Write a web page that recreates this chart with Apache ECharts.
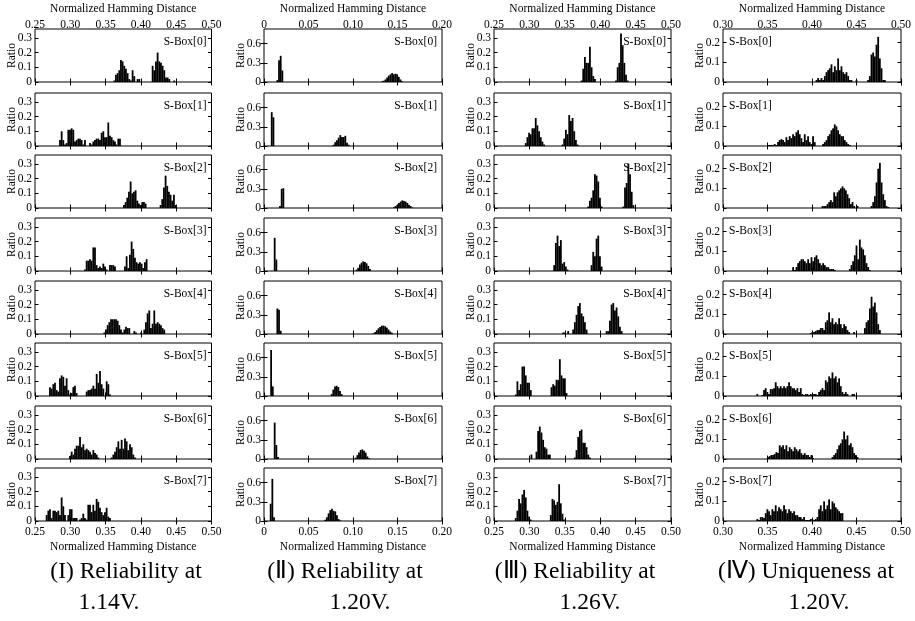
<!DOCTYPE html>
<html>
<head>
<meta charset="utf-8">
<script src="https://cdn.jsdelivr.net/npm/echarts@6/dist/echarts.min.js"></script>
<style>
html, body { margin: 0; background: #fff; }
#chart { width: 915px; height: 621px; }
</style>
</head>
<body>
<div id="chart"></div>
<script>
// axis ranges per column (I..IV)
const xMin = [0.25, 0, 0.25, 0.30];
const xMax = [0.50, 0.20, 0.50, 0.50];
const yMax = [0.36, 0.83, 0.36, 0.27];
const xTicks = [
  [0.25, 0.30, 0.35, 0.40, 0.45, 0.50],
  [0, 0.05, 0.10, 0.15, 0.20],
  [0.25, 0.30, 0.35, 0.40, 0.45, 0.50],
  [0.30, 0.35, 0.40, 0.45, 0.50]
];
const yTicks = [[0, 0.1, 0.2, 0.3], [0, 0.3, 0.6], [0, 0.1, 0.2, 0.3], [0, 0.1, 0.2]];
// histogram bin width per column
const binWidth = [0.00236, 0.00188, 0.00236, 0.001875];
const sboxNames = ['S-Box[0]', 'S-Box[1]', 'S-Box[2]', 'S-Box[3]', 'S-Box[4]', 'S-Box[5]', 'S-Box[6]', 'S-Box[7]'];
const captions = [
  ['(I) Reliability at', '1.14V.'],
  ['(Ⅱ) Reliability at', '1.20V.'],
  ['(Ⅲ) Reliability at', '1.26V.'],
  ['(Ⅳ) Uniqueness at', '1.20V.']
];

// each panel: list of [first bin, ratios of consecutive bins]
const rel114 = [
  [[0.3623, [0.01,0.05,0.06,0.08,0.15,0.14,0.11,0.09,0.06,0.02,0.01,0.08,0.04,0,0.02,0.02]],
   [0.4166, [0.11,0.08,0.14,0.20,0.14,0.13,0.11,0.08,0.03,0.03,0.02,0,0,0.01]]],
  [[0.2854, [0.04,0.10,0.04,0.01,0.02,0.11,0.11,0.12,0.11,0.03,0.04,0.05,0.05,0.04,0.01,0.04,0,0,0.02,0.01,0.03,0.04,0.05,0.05,0.04,0.09,0.10,0.06,0.06,0.16,0.07,0.06,0.04,0.03,0.01,0.05,0.05]]],
  [[0.3760, [0.02,0.04,0.07,0.11,0.18,0.10,0.11,0.12,0.05,0.03,0.02,0.04,0.04,0.03]],
   [0.4279, [0.02,0.06,0.14,0.22,0.15,0.11,0.09,0.05,0.09,0.02]]],
  [[0.3208, [0.01,0.07,0.07,0.08,0.07,0.16,0.16,0.04,0.02,0.03,0.02,0.05,0.03,0.01,0,0.04,0.04,0.04,0.03]],
   [0.3774, [0.03,0.10,0.02,0.11,0.20,0.15,0.09,0.06,0.05,0.06,0.05,0.02,0.06,0.08]]],
  [[0.3482, [0.01,0.03,0.06,0.08,0.10,0.10,0.10,0.10,0.09,0.06,0.03,0.01,0.03,0.05,0.04,0.04,0,0,0.02,0.01,0,0,0.01]],
   [0.4048, [0.03,0.08,0.14,0.16,0.04,0.07,0.16,0.07,0.08,0.07,0.06,0.04,0.03]]],
  [[0.2712, [0.06,0.05,0.08,0.09,0.04,0.03,0.12,0.14,0.13,0.07,0.12,0.04,0.01,0.02,0.06,0.07,0.02]],
   [0.3232, [0.03,0.04,0.04,0.05,0.07,0.05,0.15,0.09,0.17,0.08,0.05,0,0.10,0.08,0.01]]],
  [[0.2996, [0.02,0.05,0.03,0.07,0.09,0.09,0.15,0.08,0.10,0.06,0.07,0.06,0.05,0.03,0.06,0.04,0.03,0.01]],
   [0.3586, [0.01,0.03,0.05,0.08,0.12,0.07,0.13,0.07,0.14,0.12,0.06,0.10,0.08,0.03,0.01]]],
  [[0.2665, [0.04,0.07,0.08,0.02,0.07,0.07,0.06,0.07,0.04,0.16,0.10,0.04,0,0.04,0.08,0.08,0.02,0.02,0.02,0,0.01,0.02,0.05,0.02,0.01,0.11,0.11,0.06,0.11,0.07,0.15,0.13,0.09,0.06,0.04,0.06,0.09,0.03,0.02]]]
];

const rel120 = [
  [[0.0150, [0.03,0.34,0.41,0.18]], [0.1327, [0.01,0.02,0.04,0.07,0.10,0.12,0.14,0.12,0.13,0.12,0.08,0.04,0.01]]],
  [[0.0087, [0.53,0.45]], [0.0782, [0.02,0.06,0.09,0.13,0.17,0.14,0.14,0.16,0.05,0.02]]],
  [[0.0180, [0.03,0.30,0.31]], [0.1460, [0.01,0.03,0.05,0.08,0.10,0.12,0.11,0.10,0.08,0.05,0.03,0.01]]],
  [[0.0120, [0.52,0.18]], [0.1040, [0.02,0.05,0.10,0.13,0.15,0.14,0.12,0.08,0.03]]],
  [[0.0150, [0.40,0.38,0.05]], [0.1230, [0.01,0.03,0.06,0.09,0.11,0.13,0.13,0.12,0.10,0.07,0.04,0.02]]],
  [[0.0080, [0.72,0.15]], [0.0760, [0.03,0.10,0.15,0.16,0.14,0.08,0.03]]],
  [[0.0120, [0.57,0.22,0.03]], [0.1030, [0.02,0.06,0.10,0.14,0.15,0.13,0.10,0.04,0.01]]],
  [[0.0075, [0.27,0.66,0.06]], [0.0688, [0.02,0.06,0.12,0.17,0.19,0.16,0.15,0.09,0.03,0.01]]]
];

const rel126 = [
  [[0.3737, [0.01,0.09,0.17,0.13,0.13,0.24,0.10,0.04,0.02]], [0.4223, [0.01,0.10,0.13,0.33,0.25,0.13,0.05,0.01]]],
  [[0.2948, [0.02,0.06,0.09,0.08,0.12,0.12,0.19,0.14,0.10,0.06,0.03,0.01]], [0.3468, [0.01,0.05,0.11,0.08,0.21,0.17,0.19,0.10,0.04,0.01]]],
  [[0.3831, [0.01,0.05,0.07,0.12,0.23,0.22,0.18,0.07,0.01]], [0.4327, [0.01,0.14,0.17,0.30,0.23,0.11,0.02]]],
  [[0.3350, [0.04,0.19,0.24,0.17,0.21,0.05,0.06,0.03,0.01]], [0.3878, [0.04,0.13,0.10,0.22,0.24,0.10,0.03]]],
  [[0.3477, [0.01,0.01,0,0.02,0,0,0.03,0.08,0.13,0.19,0.21,0.14,0.12,0.08,0.03]], [0.4090, [0.02,0.02,0.09,0.20,0.21,0.16,0.18,0.12,0.05,0.02]]],
  [[0.2807, [0.01,0.10,0.04,0.08,0.20,0.20,0.14,0.09,0.09,0.04]], [0.3312, [0.06,0.08,0.07,0.11,0.11,0.25,0.14,0.12,0.12,0.02]]],
  [[0.3029, [0.03,0,0,0.05,0.19,0.22,0.18,0.13,0.08,0.07,0.03,0.03]], [0.3642, [0.01,0.06,0.15,0.19,0.20,0.11,0.11,0.08,0.03,0.01]]],
  [[0.2807, [0.02,0.07,0.15,0.12,0.18,0.21,0.16,0.07,0.03,0.01]], [0.3302, [0.04,0.15,0.14,0.11,0.13,0.25,0.12,0.05,0.01]]]
];

const uniq120 = [
  [[0.4050, [0.01,0.02,0.01,0.02,0.01,0.03,0.05,0.06,0.07,0.09,0.05,0.08,0.06,0.12,0.06,0.08,0.05,0.04,0.05,0.03,0.01,0.01,0,0,0.01]],
   [0.4631, [0.01,0.03,0.14,0.15,0.13,0.19,0.23,0.12,0.07,0.01,0.01]]],
  [[0.3506, [0.005,0.005,0.005,0.005,0.01,0.005,0.02,0.03,0.035,0.03,0.02,0.045,0.03,0.05,0.04,0.06,0.05,0.07,0.08,0.06,0.04,0.02,0.06,0.03,0.05,0.02,0.01,0.05,0.02,0,0,0,0,0.01,0.02,0.03,0.05,0.06,0.08,0.09,0.11,0.10,0.08,0.06,0.05,0.05,0.03,0.02,0.01,0.005]]],
  [[0.4118, [0.01,0.01,0.01,0.02,0.03,0.04,0.03,0.08,0.06,0.08,0.09,0.10,0.11,0.10,0.09,0.07,0.05,0.02,0.03,0.01,0,0.01]],
   [0.4669, [0.01,0.03,0.06,0.13,0.20,0.23,0.13,0.07,0.04,0.01,0.005]]],
  [[0.3788, [0.02,0.005,0.02,0.04,0.05,0.06,0.06,0.05,0.04,0.06,0.04,0.07,0.05,0.07,0.08,0.06,0.04,0.03,0.04,0.03,0.02,0.02,0.01,0.01,0.01,0.005]],
   [0.4425, [0.01,0.03,0.05,0.08,0.13,0.06,0.16,0.12,0.11,0.08,0.04,0.02,0.005]]],
  [[0.3986, [0.005,0.01,0.01,0.015,0.02,0.02,0.03,0.03,0.02,0.06,0.07,0.11,0.06,0.08,0.05,0.06,0.05,0.08,0.05,0.03,0.05,0.04,0.02,0.01,0,0,0.01]],
   [0.4594, [0.03,0.06,0.07,0.13,0.19,0.14,0.16,0.11,0.05,0.02]]],
  [[0.3386, [0.01,0,0,0.005,0.03,0.04,0.02,0.01,0.035,0.035,0.04,0.07,0.05,0.04,0.05,0.04,0.05,0.04,0.05,0.07,0.05,0.04,0.04,0.03,0.04,0.02,0.04,0.01,0.005,0.01,0.01,0.005,0.01,0.005,0.01,0.01,0.005,0.02,0.03,0.04,0.03,0.08,0.07,0.10,0.09,0.12,0.09,0.10,0.07,0.09,0.05,0.02,0.01,0.02,0.01,0,0,0.01,0.01]]],
  [[0.3506, [0.01,0.015,0.02,0.02,0.025,0.035,0.03,0.07,0.06,0.07,0.05,0.07,0.04,0.06,0.05,0.04,0.06,0.05,0.04,0.05,0.03,0.02,0.03,0.02,0.02,0.01,0.02,0.005]],
   [0.4230, [0.01,0.02,0.03,0.05,0.07,0.08,0.10,0.14,0.10,0.12,0.07,0.08,0.06,0.03,0.02,0.01]]],
  [[0.3386, [0.01,0.005,0.02,0.02,0.015,0.04,0.06,0.05,0.03,0.06,0.05,0.08,0.05,0.07,0.06,0.05,0.08,0.06,0.04,0.06,0.05,0.04,0.05,0.03,0.03,0.02,0.02,0.01,0.02,0.005,0.005,0.005,0.01,0.01,0.005,0.01,0.02,0.06,0.08,0.05,0.10,0.06,0.08,0.11,0.06,0.10,0.09,0.07,0.06,0.05,0.04,0.04]]]
];

const columns = [rel114, rel120, rel126, uniq120];

// layout (px)
const colLeft = [35, 264, 494, 723];
const colWidth = [176.5, 178, 177, 178];
const rowTop = [29, 93, 155, 218, 281, 343, 406, 468];
const plotH = 53;
const capX1 = [126, 345, 575, 806];
const capX2 = [109, 360, 590, 819];

const FONT = 'Liberation Serif';
const axisFont = { fontFamily: FONT, fontSize: 11.5, color: '#000' };

const fmtX = (v) => (v === 0 ? '0' : v.toFixed(2));
const fmtY = (v) => (v === 0 ? '0' : v.toFixed(1));

const grid = [], xAxis = [], yAxis = [], series = [], graphic = [];

columns.forEach((panels, c) => {
  panels.forEach((segments, r) => {
    const idx = c * 8 + r;
    grid.push({
      left: colLeft[c], top: rowTop[r], width: colWidth[c], height: plotH,
      show: true, borderColor: '#000', borderWidth: 1, backgroundColor: 'transparent'
    });
    const xBase = {
      gridIndex: idx, type: 'value', min: xMin[c], max: xMax[c], interval: 0.05,
      axisLine: { show: false },
      splitLine: { show: false },
      axisTick: { inside: true, length: 3.5, customValues: xTicks[c], lineStyle: { color: '#000' } },
      nameLocation: 'middle',
      nameMoveOverlap: false,
      nameTextStyle: axisFont
    };
    xAxis.push(Object.assign({}, xBase, {
      position: 'bottom',
      axisLabel: Object.assign({ show: r === 7, margin: 5, customValues: xTicks[c], formatter: fmtX }, axisFont),
      name: r === 7 ? 'Normalized Hamming Distance' : '',
      nameGap: 20
    }));
    xAxis.push(Object.assign({}, xBase, {
      position: 'top',
      axisLabel: Object.assign({ show: r === 0, margin: -2, customValues: xTicks[c], formatter: fmtX }, axisFont),
      name: r === 0 ? 'Normalized Hamming Distance' : '',
      nameGap: 14
    }));
    const yBase = {
      gridIndex: idx, type: 'value', min: 0, max: yMax[c], interval: yTicks[c][1],
      axisLine: { show: false },
      splitLine: { show: false },
      axisTick: { inside: true, length: 3.5, customValues: yTicks[c], lineStyle: { color: '#000' } }
    };
    yAxis.push(Object.assign({}, yBase, {
      position: 'left',
      axisLabel: Object.assign({ margin: 3, customValues: yTicks[c], formatter: fmtY }, axisFont),
      name: 'Ratio', nameLocation: 'middle', nameRotate: 90, nameGap: 17.5,
      nameMoveOverlap: false,
      nameTextStyle: axisFont
    }));
    yAxis.push(Object.assign({}, yBase, {
      position: 'right',
      axisLabel: { show: false }
    }));

    const data = [];
    segments.forEach(([start, heights]) => {
      heights.forEach((h, i) => data.push([start + i * binWidth[c], h]));
    });
    series.push({
      type: 'bar', xAxisIndex: 2 * idx, yAxisIndex: 2 * idx,
      data, barWidth: 1.8, itemStyle: { color: '#000' }, silent: true
    });

    // S-Box label inside the panel
    const right = c < 3;
    graphic.push({
      type: 'text',
      x: right ? colLeft[c] + colWidth[c] - 5 : colLeft[c] + 6,
      y: rowTop[r] + 12.5,
      style: {
        text: sboxNames[r], fill: '#000', fontFamily: FONT, fontSize: 11.5,
        align: right ? 'right' : 'left', verticalAlign: 'middle'
      }
    });
  });

  [[capX1[c], 572, captions[c][0]], [capX2[c], 603, captions[c][1]]].forEach(([x, y, text]) => {
    graphic.push({
      type: 'text', x, y,
      style: { text, fill: '#000', fontFamily: FONT, fontSize: 23.5, align: 'center', verticalAlign: 'middle' }
    });
  });
});

const chart = echarts.init(document.getElementById('chart'), null, { renderer: 'canvas' });
chart.setOption({
  animation: false,
  backgroundColor: '#fff',
  grid, xAxis, yAxis, series, graphic
});
</script>
</body>
</html>
